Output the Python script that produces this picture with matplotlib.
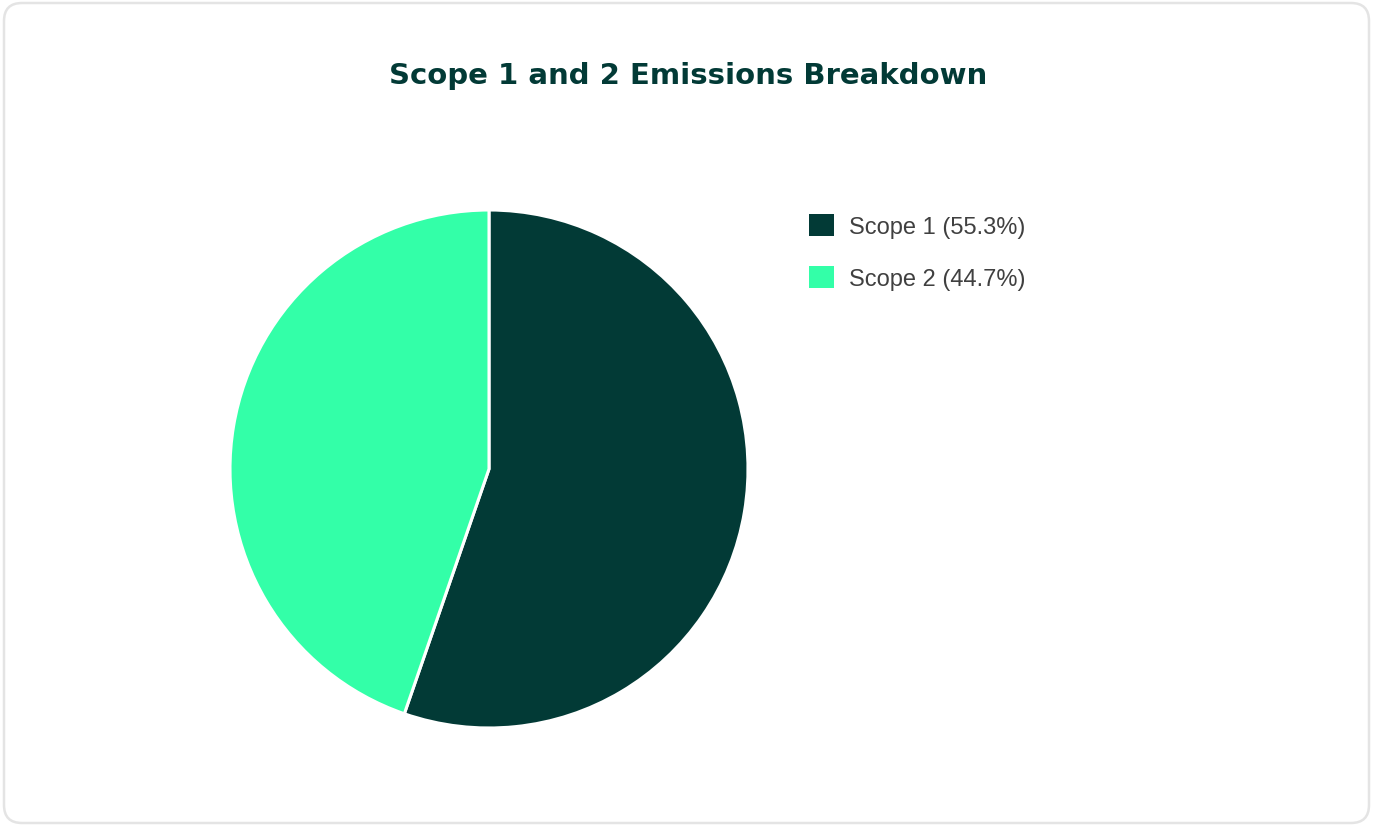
import matplotlib
matplotlib.use("Agg")
import matplotlib.pyplot as plt
from matplotlib.patches import FancyBboxPatch, Patch

categories = ["Scope 1", "Scope 2"]
shares = [55.3, 44.7]
colors = ["#023a36", "#33ffa8"]
title = "Scope 1 and 2 Emissions Breakdown"

W, H = 1373, 828
fig = plt.figure(figsize=(W / 100, H / 100), dpi=100)
fig.patch.set_facecolor("white")

# rounded card border (pixel coords)
border = FancyBboxPatch((4, 4), W - 8, H - 8,
                        boxstyle="round,pad=0,rounding_size=18",
                        transform=None, facecolor="none",
                        edgecolor="#e4e4e4", linewidth=1.8, zorder=-1)
fig.patches.append(border)

cx, cy, r = 489, H - 470, 259
ax = fig.add_axes([(cx - r) / W, (cy - r) / H, 2 * r / W, 2 * r / H])
wedges, _ = ax.pie(shares, colors=colors, startangle=90, counterclock=False,
                   radius=1, wedgeprops=dict(edgecolor="white", linewidth=2.2))
ax.set_xlim(-1, 1)
ax.set_ylim(-1, 1)
ax.set_aspect("equal")
ax.axis("off")

fig.text(688 / W, 1 - 76 / H, title, ha="center", va="center",
         fontsize=21, fontweight="bold", color="#023a36",
         family=["DejaVu Sans"])

handles = [Patch(facecolor=c, edgecolor="none") for c in colors]
labels = [f"{c} ({v:.1f}%)" for c, v in zip(categories, shares)]
leg = fig.legend(handles, labels, loc="upper left",
                 bbox_to_anchor=(809 / W, 1 - 215 / H),
                 bbox_transform=fig.transFigure, frameon=False,
                 prop=dict(family="Liberation Sans", size=17),
                 handlelength=1.06, handleheight=1.06, handletextpad=0.65,
                 labelspacing=1.2, borderaxespad=0, borderpad=0)
for t in leg.get_texts():
    t.set_color("#404040")

fig.savefig("out.png", dpi=100)
